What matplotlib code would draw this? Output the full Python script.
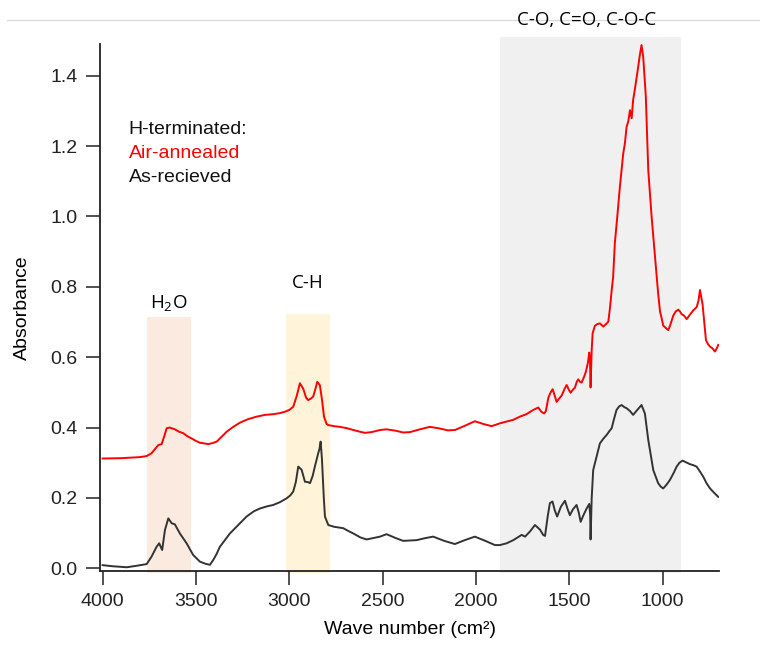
import matplotlib
matplotlib.use("Agg")
import matplotlib.pyplot as plt
from matplotlib.lines import Line2D
from matplotlib.patches import Rectangle

plt.rcParams['font.family'] = ['Liberation Sans', 'DejaVu Sans']
plt.rcParams['mathtext.default'] = 'regular'

# FTIR absorbance spectra (wavenumber in cm^-1)
wn_air = [4000, 3900, 3800, 3764, 3738, 3702, 3684, 3670, 3657, 3640, 3625, 3613,
          3590, 3568, 3545, 3523, 3500, 3479, 3434, 3410, 3389, 3360, 3336, 3300,
          3264, 3220, 3175, 3130, 3086, 3050, 3023, 3000, 2979, 2960, 2943, 2925,
          2910, 2899, 2885, 2872, 2860, 2850, 2836, 2825, 2814, 2800, 2791, 2760,
          2729, 2690, 2657, 2620, 2595, 2560, 2514, 2479, 2430, 2390, 2354, 2300,
          2247, 2200, 2150, 2113, 2060, 2006, 1960, 1916, 1872, 1836, 1800, 1765,
          1730, 1693, 1666, 1650, 1635, 1626, 1612, 1600, 1589, 1578, 1568, 1555,
          1541, 1525, 1514, 1503, 1493, 1480, 1470, 1460, 1452, 1443, 1434, 1420,
          1411, 1400, 1393, 1389, 1386, 1380, 1375, 1363, 1350, 1336, 1318, 1305,
          1291, 1282, 1273, 1265, 1256, 1243, 1229, 1211, 1202, 1193, 1184, 1175,
          1166, 1158, 1149, 1140, 1131, 1122, 1113, 1104, 1090, 1077, 1059, 1041,
          1024, 1014, 1005, 997, 979, 970, 960, 943, 930, 916, 907, 898, 885, 871,
          855, 836, 818, 808, 800, 793, 786, 775, 768, 757, 746, 733, 720, 710, 702]
abs_air = [0.312, 0.313, 0.316, 0.319, 0.327, 0.350, 0.353, 0.375, 0.398, 0.400, 0.397, 0.395,
           0.388, 0.384, 0.375, 0.369, 0.362, 0.357, 0.353, 0.356, 0.360, 0.375, 0.388, 0.402,
           0.414, 0.424, 0.431, 0.436, 0.438, 0.441, 0.445, 0.450, 0.459, 0.490, 0.526, 0.510,
           0.485, 0.478, 0.482, 0.488, 0.510, 0.530, 0.520, 0.480, 0.431, 0.410, 0.407, 0.404,
           0.402, 0.398, 0.393, 0.388, 0.385, 0.387, 0.393, 0.395, 0.391, 0.386, 0.387, 0.395,
           0.402, 0.398, 0.392, 0.393, 0.405, 0.418, 0.410, 0.404, 0.412, 0.417, 0.422, 0.431,
           0.438, 0.450, 0.457, 0.445, 0.440, 0.446, 0.485, 0.500, 0.509, 0.490, 0.473, 0.482,
           0.491, 0.510, 0.521, 0.508, 0.499, 0.508, 0.513, 0.530, 0.537, 0.530, 0.528, 0.545,
           0.559, 0.585, 0.613, 0.590, 0.514, 0.620, 0.668, 0.689, 0.694, 0.696, 0.687, 0.693,
           0.701, 0.740, 0.790, 0.829, 0.924, 0.999, 1.084, 1.179, 1.208, 1.255, 1.270, 1.302,
           1.279, 1.331, 1.360, 1.392, 1.425, 1.459, 1.487, 1.454, 1.340, 1.132, 0.999, 0.885,
           0.781, 0.730, 0.710, 0.690, 0.681, 0.677, 0.690, 0.718, 0.730, 0.735, 0.730, 0.722, 0.718, 0.708,
           0.720, 0.733, 0.742, 0.760, 0.791, 0.770, 0.750, 0.690, 0.649, 0.637, 0.630, 0.625, 0.616, 0.625, 0.635]

wn_rec = [4000, 3950, 3900, 3871, 3820, 3764, 3738, 3711, 3697, 3681, 3666, 3648,
          3630, 3613, 3586, 3550, 3515, 3479, 3450, 3425, 3407, 3390, 3372, 3345,
          3318, 3270, 3229, 3190, 3157, 3120, 3086, 3050, 3014, 2995, 2979, 2965,
          2952, 2934, 2916, 2900, 2889, 2875, 2863, 2845, 2838, 2832, 2825, 2815,
          2809, 2791, 2760, 2711, 2680, 2657, 2620, 2586, 2550, 2514, 2479, 2430,
          2390, 2318, 2270, 2229, 2170, 2113, 2060, 2006, 1950, 1898, 1872, 1836,
          1800, 1770, 1755, 1737, 1710, 1684, 1657, 1640, 1630, 1615, 1604, 1590,
          1578, 1565, 1545, 1523, 1510, 1497, 1480, 1461, 1450, 1439, 1425, 1407,
          1393, 1388, 1386, 1380, 1372, 1354, 1336, 1318, 1300, 1285, 1273, 1260,
          1247, 1233, 1220, 1205, 1193, 1175, 1158, 1136, 1113, 1095, 1077, 1060,
          1050, 1024, 1010, 997, 980, 961, 940, 925, 910, 893, 870, 854, 835, 818,
          800, 782, 765, 746, 725, 702]
abs_rec = [0.009, 0.006, 0.004, 0.003, 0.007, 0.012, 0.033, 0.061, 0.071, 0.052, 0.109, 0.142,
           0.128, 0.125, 0.099, 0.071, 0.038, 0.019, 0.013, 0.010, 0.024, 0.040, 0.061, 0.080,
           0.099, 0.125, 0.147, 0.162, 0.170, 0.176, 0.180, 0.188, 0.199, 0.207, 0.218, 0.245,
           0.289, 0.280, 0.246, 0.245, 0.242, 0.262, 0.289, 0.327, 0.340, 0.360, 0.310, 0.200,
           0.147, 0.123, 0.118, 0.114, 0.105, 0.099, 0.088, 0.082, 0.086, 0.090, 0.097, 0.086,
           0.078, 0.080, 0.086, 0.090, 0.078, 0.069, 0.080, 0.090, 0.078, 0.066, 0.066, 0.071,
           0.080, 0.090, 0.095, 0.090, 0.105, 0.123, 0.110, 0.095, 0.092, 0.150, 0.185, 0.190,
           0.165, 0.147, 0.175, 0.192, 0.170, 0.151, 0.168, 0.180, 0.160, 0.132, 0.150, 0.170,
           0.183, 0.150, 0.082, 0.200, 0.279, 0.317, 0.355, 0.368, 0.379, 0.390, 0.398, 0.425,
           0.450, 0.460, 0.464, 0.458, 0.455, 0.447, 0.436, 0.450, 0.464, 0.440, 0.365, 0.310,
           0.279, 0.242, 0.232, 0.227, 0.237, 0.251, 0.272, 0.289, 0.300, 0.306, 0.300, 0.296, 0.293, 0.289,
           0.275, 0.260, 0.242, 0.227, 0.215, 0.203]

# Highlighted absorption bands: (high wn, low wn, top absorbance, colour)
band_labels = ["H$_2$O", "C-H", "C-O, C=O, C-O-C"]
band_hi = [3764, 3018, 1872]
band_lo = [3529, 2783, 904]
band_top = [0.715, 0.723, 1.51]
band_colors = ["#fbeadf", "#fff4da", "#f0f0f0"]

x_ticks = [4000, 3500, 3000, 2500, 2000, 1500, 1000]
y_ticks = [0.0, 0.2, 0.4, 0.6, 0.8, 1.0, 1.2, 1.4]

fig = plt.figure(figsize=(7.6, 6.53), dpi=100)
ax = fig.add_axes([100 / 760, 1 - 570.7 / 653, 619 / 760, 526.7 / 653])

for hi, lo, top, col in zip(band_hi, band_lo, band_top, band_colors):
    ax.add_patch(Rectangle((lo, -0.014), hi - lo, top + 0.014, facecolor=col,
                           edgecolor='none', zorder=0, clip_on=False))

ax.plot(wn_air, abs_air, color='#ff0000', lw=1.4, zorder=3)
ax.plot(wn_rec, abs_rec, color='#333333', lw=1.4, zorder=3)

ax.set_xlim(4014, 698)
ax.set_ylim(-0.0068, 1.49)
ax.set_xticks(x_ticks)
ax.set_yticks(y_ticks)
ax.set_yticklabels([f"{v:.1f}" for v in y_ticks])
ax.tick_params(direction='out', length=10, width=1.1, labelsize=14, pad=6, colors='#222222')
for side in ('top', 'right'):
    ax.spines[side].set_visible(False)
for side in ('left', 'bottom'):
    ax.spines[side].set_linewidth(1.3)
    ax.spines[side].set_color('#222222')
    ax.spines[side].set_zorder(5)

ax.set_xlabel("Wave number (cm²)", fontsize=14, labelpad=8)
ax.set_ylabel("Absorbance", fontsize=14, labelpad=14)

# Sample legend as plain text
ax.text(3860, 1.246, "H-terminated:", fontsize=14, color='#111111', va='center', ha='left')
ax.text(3860, 1.178, "Air-annealed", fontsize=14, color='#ff0000', va='center', ha='left')
ax.text(3860, 1.112, "As-recieved", fontsize=14, color='#111111', va='center', ha='left')

# Band labels
calib = ['Open Sans', 'DejaVu Sans']
ax.text((band_hi[0] + band_lo[0]) / 2, 0.755, band_labels[0], fontsize=13.5,
        family=calib, ha='center', va='center')
ax.text((band_hi[1] + band_lo[1]) / 2, 0.81, band_labels[1], fontsize=13.5,
        family=calib, ha='center', va='center')
fig.add_artist(Line2D([7 / 760, 1.0], [1 - 20 / 653, 1 - 20 / 653], color='#d9d9d9',
                      lw=0.9, zorder=0))
fig.text(587 / 760, 1 - 20 / 653, band_labels[2], fontsize=13.5, family=calib,
         ha='center', va='center', zorder=2)

fig.savefig("out.png", dpi=100)
